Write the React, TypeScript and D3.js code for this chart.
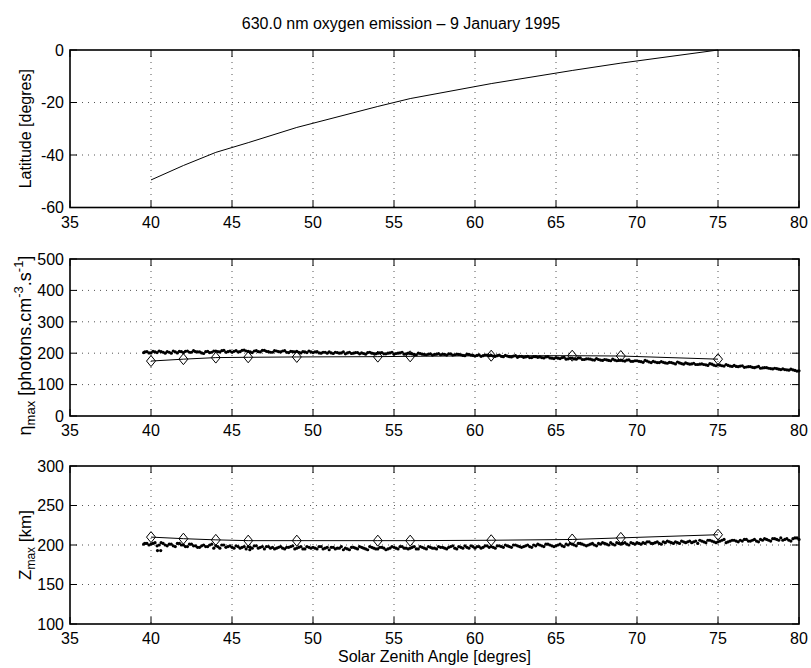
import React, { useEffect } from "react";
import * as d3 from "d3";

// ---------- data ----------
const title = "630.0 nm oxygen emission \u2013 9 January 1995";
const xTicks = [35, 40, 45, 50, 55, 60, 65, 70, 75, 80];
const latTicks = [-60, -40, -20, 0];
const etaTicks = [0, 100, 200, 300, 400, 500];
const zTicks = [100, 150, 200, 250, 300];

// model points (diamonds / line)
const modelSza = [40, 42, 44, 46, 49, 54, 56, 61, 66, 69, 75];
const latitude = [-49.5, -44, -39, -35.3, -29.5, -21.5, -18.5, -12.8, -7.8, -5, 0];
const etaModel = [175, 181, 186, 187, 188, 189, 190, 192, 192, 191, 181];
const zModel = [210, 208, 206.5, 205.5, 205.5, 205.5, 205.5, 206, 207, 209, 213];

// measured points (dots), first pass
const measSza = [
  39.55, 39.75,
  40, 40.25, 40.5, 40.75, 41, 41.25, 41.5, 41.75, 42, 42.25, 42.5, 42.75,
  43, 43.25, 43.5, 43.75, 44, 44.25, 44.5, 44.75, 45, 45.25, 45.5, 45.75,
  46, 46.25, 46.5, 46.75, 47, 47.25, 47.5, 47.75, 48, 48.25, 48.5, 48.75,
  49, 49.25, 49.5, 49.75, 50, 50.25, 50.5, 50.75, 51, 51.25, 51.5, 51.75,
  52, 52.25, 52.5, 52.75, 53, 53.25, 53.5, 53.75, 54, 54.25, 54.5, 54.75,
  55, 55.25, 55.5, 55.75, 56, 56.25, 56.5, 56.75, 57, 57.25, 57.5, 57.75,
  58, 58.25, 58.5, 58.75, 59, 59.25, 59.5, 59.75, 60, 60.25, 60.5, 60.75,
  61, 61.25, 61.5, 61.75, 62, 62.25, 62.5, 62.75, 63, 63.25, 63.5, 63.75,
  64, 64.25, 64.5, 64.75, 65, 65.25, 65.5, 65.75, 66, 66.25, 66.5, 66.75,
  67, 67.25, 67.5, 67.75, 68, 68.25, 68.5, 68.75, 69, 69.25, 69.5, 69.75,
  70, 70.25, 70.5, 70.75, 71, 71.25, 71.5, 71.75, 72, 72.25, 72.5, 72.75,
  73, 73.25, 73.5, 73.75, 74, 74.25, 74.5, 74.75, 75, 75.25, 75.5, 75.75,
  76, 76.25, 76.5, 76.75, 77, 77.25, 77.5, 77.75, 78, 78.25, 78.5, 78.75,
  79, 79.25, 79.5, 79.75, 80,
];
const etaMeas = [
  202, 205,
  201, 204, 207, 203, 205, 200, 204, 206, 202, 207, 203, 205,
  204, 199, 206, 203, 207, 204, 209, 205, 203, 208, 205, 210,
  206, 202, 208, 204, 209, 205, 203, 207, 204, 208, 202, 205,
  206, 201, 204, 207, 202, 205, 200, 203, 204, 199, 202, 201,
  198, 203, 200, 202, 201, 197, 203, 199, 200, 202, 198, 201,
  197, 200, 203, 198, 199, 196, 200, 197, 195, 198, 196, 199,
  197, 194, 198, 195, 196, 193, 197, 194, 191, 195, 192, 194,
  193, 190, 194, 189, 191, 188, 192, 190, 187, 190, 186, 189,
  188, 185, 189, 184, 186, 183, 187, 182, 184, 181, 185, 180,
  182, 179, 183, 178, 180, 177, 181, 176, 178, 175, 179, 174,
  176, 173, 177, 172, 174, 170, 173, 169, 171, 168, 172, 167,
  169, 165, 168, 164, 166, 163, 167, 162, 163, 160, 164, 159,
  161, 157, 160, 156, 157, 154, 158, 153, 154, 151, 152, 149,
  150, 147, 149, 145, 144,
];
const zMeas = [
  201, 202,
  201, 203, 200, 202, 199, 201, 198, 202, 200, 198, 201, 199,
  197, 200, 198, 201, 199, 196, 200, 198, 197, 199, 196, 198,
  198, 196, 199, 197, 195, 198, 197, 196, 198, 195, 197, 199,
  196, 198, 195, 197, 197, 195, 198, 196, 194, 197, 196, 198,
  196, 194, 197, 195, 197, 195, 198, 196, 195, 197, 194, 196,
  197, 195, 198, 196, 196, 198, 195, 197, 195, 197, 196, 198,
  197, 195, 198, 196, 198, 196, 197, 199, 196, 198, 197, 199,
  198, 196, 199, 197, 199, 197, 200, 198, 198, 200, 197, 199,
  200, 198, 201, 199, 199, 201, 198, 200, 201, 199, 202, 200,
  200, 202, 199, 201, 202, 200, 201, 203, 201, 203, 200, 202,
  203, 201, 202, 204, 202, 204, 201, 203, 204, 202, 203, 205,
  203, 205, 204, 202, 205, 203, 206, 204, 204, 206, 203, 205,
  206, 204, 205, 207, 205, 207, 204, 206, 207, 205, 208, 206,
  206, 208, 205, 209, 207,
];

// measured points (dots), interleaved second pass
const measSza2 = [
  39.625, 39.875,
  40.125, 40.375, 40.625, 40.875, 41.125, 41.375, 41.625, 41.875,
  42.125, 42.375, 42.625, 42.875, 43.125, 43.375, 43.625, 43.875,
  44.125, 44.375, 44.625, 44.875, 45.125, 45.375, 45.625, 45.875,
  46.125, 46.375, 46.625, 46.875, 47.125, 47.375, 47.625, 47.875,
  48.125, 48.375, 48.625, 48.875, 49.125, 49.375, 49.625, 49.875,
  50.125, 50.375, 50.625, 50.875, 51.125, 51.375, 51.625, 51.875,
  52.125, 52.375, 52.625, 52.875, 53.125, 53.375, 53.625, 53.875,
  54.125, 54.375, 54.625, 54.875, 55.125, 55.375, 55.625, 55.875,
  56.125, 56.375, 56.625, 56.875, 57.125, 57.375, 57.625, 57.875,
  58.125, 58.375, 58.625, 58.875, 59.125, 59.375, 59.625, 59.875,
  60.125, 60.375, 60.625, 60.875, 61.125, 61.375, 61.625, 61.875,
  62.125, 62.375, 62.625, 62.875, 63.125, 63.375, 63.625, 63.875,
  64.125, 64.375, 64.625, 64.875, 65.125, 65.375, 65.625, 65.875,
  66.125, 66.375, 66.625, 66.875, 67.125, 67.375, 67.625, 67.875,
  68.125, 68.375, 68.625, 68.875, 69.125, 69.375, 69.625, 69.875,
  70.125, 70.375, 70.625, 70.875, 71.125, 71.375, 71.625, 71.875,
  72.125, 72.375, 72.625, 72.875, 73.125, 73.375, 73.625, 73.875,
  74.125, 74.375, 74.625, 74.875, 75.125, 75.375, 75.625, 75.875,
  76.125, 76.375, 76.625, 76.875, 77.125, 77.375, 77.625, 77.875,
  78.125, 78.375, 78.625, 78.875, 79.125, 79.375, 79.625, 79.875,
];
const etaMeas2 = [
  204, 201,
  206, 202, 205, 200, 203, 207, 201, 205,
  206, 203, 208, 204, 201, 205, 202, 207,
  205, 208, 203, 207, 206, 204, 209, 207,
  204, 207, 205, 209, 206, 203, 208, 205,
  207, 203, 206, 204, 203, 205, 202, 204,
  204, 201, 203, 200, 201, 203, 200, 204,
  201, 199, 202, 198, 199, 202, 200, 198,
  201, 198, 200, 203, 199, 201, 197, 200,
  198, 195, 199, 196, 197, 194, 197, 195,
  196, 198, 194, 197, 195, 192, 196, 193,
  193, 190, 194, 192, 191, 192, 190, 193,
  189, 191, 187, 190, 188, 186, 189, 187,
  186, 188, 185, 183, 184, 186, 181, 184,
  182, 185, 180, 182, 181, 178, 180, 177,
  179, 176, 178, 177, 176, 178, 174, 176,
  174, 171, 175, 170, 172, 170, 171, 168,
  170, 166, 169, 165, 167, 166, 164, 165,
  164, 161, 165, 160, 162, 159, 161, 158,
  158, 159, 155, 157, 155, 156, 152, 154,
  152, 150, 151, 148, 148, 146, 147, 143,
];
const zMeas2 = [
  202, 200,
  202, 199, 203, 200, 201, 199, 202, 200,
  198, 201, 199, 197, 199, 198, 200, 196,
  198, 200, 197, 199, 196, 198, 197, 195,
  197, 199, 196, 198, 198, 196, 195, 197,
  196, 197, 198, 195, 197, 195, 198, 196,
  196, 198, 195, 197, 197, 195, 196, 194,
  195, 197, 196, 198, 196, 194, 197, 195,
  197, 196, 195, 198, 196, 198, 196, 195,
  197, 195, 198, 196, 198, 196, 195, 197,
  196, 197, 199, 195, 197, 199, 196, 198,
  198, 196, 199, 197, 197, 199, 198, 200,
  198, 200, 199, 197, 199, 198, 200, 201,
  199, 201, 200, 198, 200, 199, 201, 202,
  200, 202, 201, 199, 201, 200, 202, 203,
  201, 203, 200, 202, 202, 201, 203, 201,
  202, 203, 204, 202, 203, 202, 204, 205,
  203, 204, 202, 204, 204, 203, 205, 206,
  204, 206, 205, 203, 205, 207, 204, 206,
  205, 206, 207, 205, 206, 205, 207, 208,
  206, 208, 207, 209, 207, 206, 208, 209,
];
const zOutlierSza = [40.4, 40.6, 46.1];
const zOutlierVal = [193, 193, 194];

// ---------- layout ----------
const W = 811;
const H = 668;
const X0 = 70;
const X1 = 799;
const FONT = "'Liberation Sans', Arial, Helvetica, sans-serif";

const x = d3.scaleLinear().domain([35, 80]).range([X0, X1]);

type PanelProps = {
  top: number;
  bottom: number;
  domain: [number, number];
  yTicks: number[];
  children: (y: d3.ScaleLinear<number, number>) => React.ReactNode;
  ylabel: React.ReactNode;
  labelSize?: number;
  labelShift?: number;
};

function Panel({ top, bottom, domain, yTicks, children, ylabel, labelSize = 16, labelShift = 0 }: PanelProps) {
  const y = d3.scaleLinear().domain(domain).range([bottom, top]);
  const tick = 7;
  return (
    <g>
      {xTicks.slice(1, -1).map((t) => (
        <line key={"gx" + t} x1={x(t)} x2={x(t)} y1={top} y2={bottom}
          stroke="#555" strokeWidth={1} strokeDasharray="1 5" />
      ))}
      {yTicks.slice(1, -1).map((t) => (
        <line key={"gy" + t} x1={X0} x2={X1} y1={y(t)} y2={y(t)}
          stroke="#555" strokeWidth={1} strokeDasharray="1 5" />
      ))}
      {children(y)}
      {xTicks.map((t) => (
        <g key={"tx" + t}>
          <line x1={x(t)} x2={x(t)} y1={bottom} y2={bottom - tick} stroke="#000" />
          <line x1={x(t)} x2={x(t)} y1={top} y2={top + tick} stroke="#000" />
          <text x={x(t)} y={bottom + 20} textAnchor="middle" fontSize={16}>{t}</text>
        </g>
      ))}
      {yTicks.map((t) => (
        <g key={"ty" + t}>
          <line x1={X0} x2={X0 + tick} y1={y(t)} y2={y(t)} stroke="#000" />
          <line x1={X1} x2={X1 - tick} y1={y(t)} y2={y(t)} stroke="#000" />
          <text x={X0 - 6} y={y(t)} dy="0.36em" textAnchor="end" fontSize={16}>{t}</text>
        </g>
      ))}
      <rect x={X0} y={top} width={X1 - X0} height={bottom - top} fill="none" stroke="#000" strokeWidth={1.6} />
      <text transform={`translate(31,${(top + bottom) / 2 + labelShift}) rotate(-90)`} textAnchor="middle" fontSize={labelSize}>
        {ylabel}
      </text>
    </g>
  );
}

function Diamonds({ xs, ys, y }: { xs: number[]; ys: number[]; y: d3.ScaleLinear<number, number> }) {
  const line = d3.line<number>().x((_, i) => x(xs[i])).y((v) => y(v));
  return (
    <g>
      <path d={line(ys) || ""} fill="none" stroke="#000" strokeWidth={1} />
      {ys.map((v, i) => {
        const cx = x(xs[i]);
        const cy = y(v);
        return (
          <path key={i} d={`M${cx},${cy - 5.5}L${cx + 4.5},${cy}L${cx},${cy + 5.5}L${cx - 4.5},${cy}Z`}
            fill="none" stroke="#000" strokeWidth={1} />
        );
      })}
    </g>
  );
}

function Dots({ xs, ys, y }: { xs: number[]; ys: number[]; y: d3.ScaleLinear<number, number> }) {
  return (
    <g>
      {ys.map((v, i) => (
        <circle key={i} cx={x(xs[i])} cy={y(v)} r={1.6} fill="#000" />
      ))}
    </g>
  );
}

export default function App() {
  useEffect(() => {
    document.body.style.margin = "0";
  }, []);
  const latLine = d3.line<number>().x((_, i) => x(modelSza[i]));
  return (
    <svg width={W} height={H} style={{ display: "block", fontFamily: FONT, background: "#fff" }}>
      <rect width={W} height={H} fill="#fff" />
      <text x={401} y={29} textAnchor="middle" fontSize={16}>{title}</text>

      <Panel top={50} bottom={207.5} domain={[-60, 0]} yTicks={latTicks} ylabel="Latitude [degres]">
        {(y) => (
          <path d={latLine.y((v) => y(v))(latitude) || ""} fill="none" stroke="#000" strokeWidth={1} />
        )}
      </Panel>

      <Panel top={259} bottom={416} domain={[0, 500]} yTicks={etaTicks} labelSize={18} labelShift={8}
        ylabel={
          <>
            <tspan>{"\u03B7"}</tspan>
            <tspan fontSize={13} dy={4}>max</tspan>
            <tspan dy={-4}>{" [photons.cm"}</tspan>
            <tspan fontSize={13} dy={-8}>-3</tspan>
            <tspan dy={8}>.s</tspan>
            <tspan fontSize={13} dy={-8}>-1</tspan>
            <tspan dy={8}>]</tspan>
          </>
        }>
        {(y) => (
          <g>
            <Dots xs={measSza} ys={etaMeas} y={y} />
            <Dots xs={measSza2} ys={etaMeas2} y={y} />
            <Diamonds xs={modelSza} ys={etaModel} y={y} />
          </g>
        )}
      </Panel>

      <Panel top={466} bottom={624} domain={[100, 300]} yTicks={zTicks} labelSize={17}
        ylabel={
          <>
            <tspan>Z</tspan>
            <tspan fontSize={12} dy={4}>max</tspan>
            <tspan dy={-4}>{" [km]"}</tspan>
          </>
        }>
        {(y) => (
          <g>
            <Dots xs={measSza} ys={zMeas} y={y} />
            <Dots xs={measSza2} ys={zMeas2} y={y} />
            <Dots xs={zOutlierSza} ys={zOutlierVal} y={y} />
            <Diamonds xs={modelSza} ys={zModel} y={y} />
          </g>
        )}
      </Panel>

      <text x={(X0 + X1) / 2} y={662} textAnchor="middle" fontSize={16}>Solar Zenith Angle [degres]</text>
    </svg>
  );
}
